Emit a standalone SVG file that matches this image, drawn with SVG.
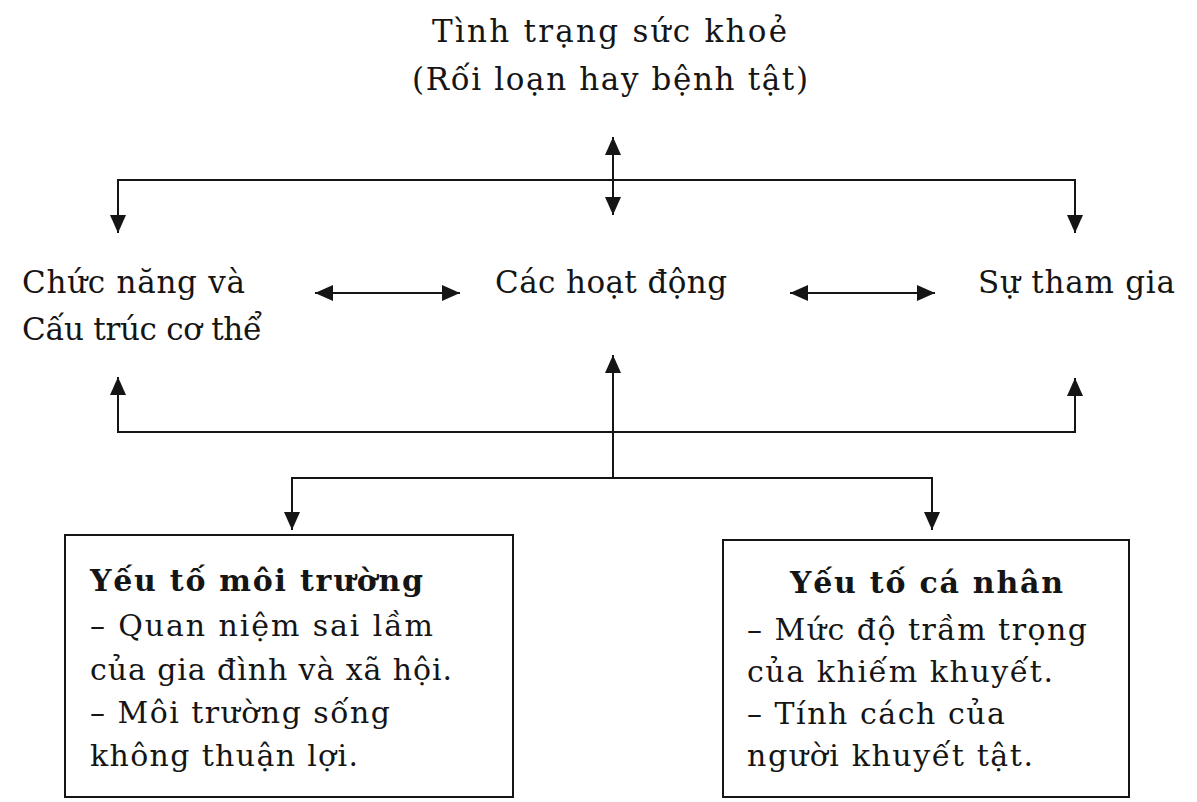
<svg xmlns="http://www.w3.org/2000/svg" width="1197" height="802" viewBox="0 0 1197 802">
<style>
text{font-family:"DejaVu Serif","Liberation Serif",serif;fill:#151515}
.t{font-size:31px}
.b{font-size:30px}
.bh{font-size:30px;font-weight:bold}
.c{stroke:#151515;stroke-width:2;fill:none}
.box{fill:#fff;stroke:#151515;stroke-width:2}
</style>
<defs>
<marker id="ah" markerUnits="userSpaceOnUse" markerWidth="18" markerHeight="16" refX="18" refY="8" orient="auto-start-reverse"><path d="M0,0 L18,8 L0,16 z" fill="#151515"/></marker>
</defs>
<rect width="1197" height="802" fill="#fff"/>
<g id="connectors">
<path class="c" d="M118,233 V180 H1075 V233" marker-start="url(#ah)" marker-end="url(#ah)"/>
<path class="c" d="M613,137 V215" marker-start="url(#ah)" marker-end="url(#ah)"/>
<path class="c" d="M315,293 H460" marker-start="url(#ah)" marker-end="url(#ah)"/>
<path class="c" d="M790,293 H935" marker-start="url(#ah)" marker-end="url(#ah)"/>
<path class="c" d="M118,377 V432 H1075 V378" marker-start="url(#ah)" marker-end="url(#ah)"/>
<path class="c" d="M613,478 V355" marker-end="url(#ah)"/>
<path class="c" d="M292,530 V478 H932 V530" marker-start="url(#ah)" marker-end="url(#ah)"/>
</g>
<g id="health">
<text class="t" x="432" y="42" textLength="355">Tình trạng sức khoẻ</text>
<text class="t" x="412" y="90" textLength="396">(Rối loạn hay bệnh tật)</text>
</g>
<g id="body">
<text class="t" x="22" y="293" textLength="223">Chức năng và</text>
<text class="t" x="22" y="340" textLength="240">Cấu trúc cơ thể</text>
</g>
<g id="activities">
<text class="t" x="495" y="293" textLength="232">Các hoạt động</text>
</g>
<g id="participation">
<text class="t" x="978" y="293" textLength="197">Sự tham gia</text>
</g>
<g id="environment">
<rect class="box" x="65" y="535" width="448" height="262"/>
<text class="bh" x="90" y="591" textLength="333">Yếu tố môi trường</text>
<text class="b" x="90" y="636" textLength="343">– Quan niệm sai lầm</text>
<text class="b" x="90" y="680" textLength="362">của gia đình và xã hội.</text>
<text class="b" x="90" y="723" textLength="300">– Môi trường sống</text>
<text class="b" x="90" y="766" textLength="268">không thuận lợi.</text>
</g>
<g id="personal">
<rect class="box" x="723" y="540" width="406" height="257"/>
<text class="bh" x="790" y="593" textLength="273">Yếu tố cá nhân</text>
<text class="b" x="747" y="640" textLength="340">– Mức độ trầm trọng</text>
<text class="b" x="747" y="682" textLength="306">của khiếm khuyết.</text>
<text class="b" x="747" y="724" textLength="258">– Tính cách của</text>
<text class="b" x="747" y="766" textLength="286">người khuyết tật.</text>
</g>
</svg>
